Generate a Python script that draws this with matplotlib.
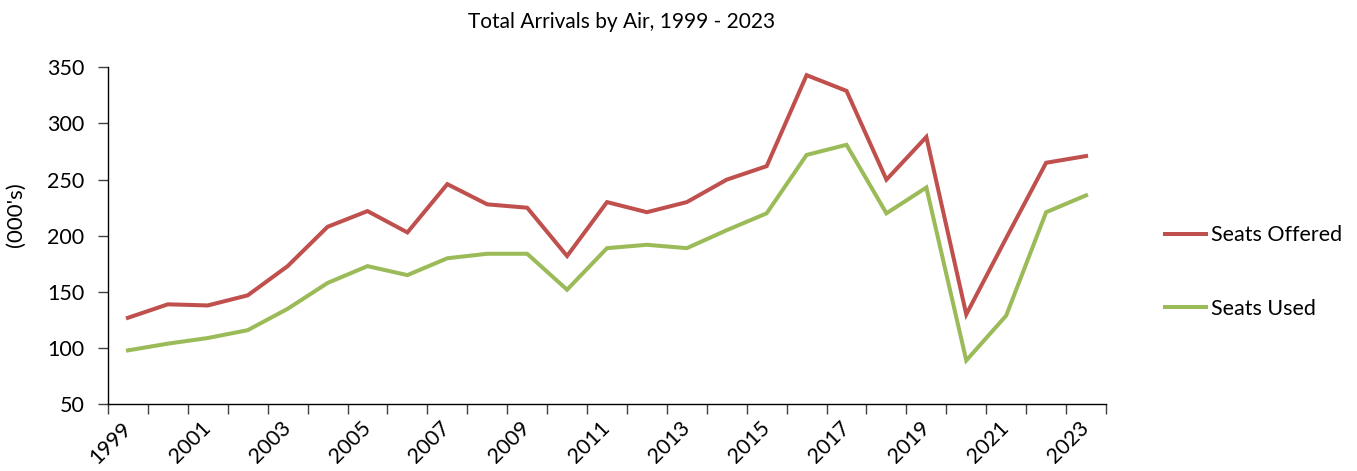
import matplotlib
matplotlib.use("Agg")
import matplotlib.pyplot as plt
import numpy as np

years = [str(y) for y in range(1999, 2024)]
seats_offered = [127, 139, 138, 147, 173, 208, 222, 203, 246, 228, 225, 182,
                 230, 221, 230, 250, 262, 343, 329, 250, 288, 130, 198, 265, 271]
seats_used = [98, 104, 109, 116, 135, 158, 173, 165, 180, 184, 184, 152,
              189, 192, 189, 205, 220, 272, 281, 220, 243, 89, 129, 221, 236]

plt.rcParams['font.family'] = ['Lato', 'DejaVu Sans']
FS = 15.5

fig = plt.figure(figsize=(13.57, 4.71), dpi=100)
ax = fig.add_axes([108/1357, 1-404.3/471, (1106-108)/1357, (404.3-67.3)/471])

x = np.arange(len(years))
ax.plot(x, seats_offered, color='#C0504D', lw=2.9, label='Seats Offered', solid_joinstyle='miter')
ax.plot(x, seats_used, color='#9BBB59', lw=2.9, label='Seats Used', solid_joinstyle='miter')

ax.set_xlim(-0.5, len(years)-0.5)
ax.set_ylim(50, 350)
ax.set_yticks(np.arange(50, 351, 50))

ax.set_xticks(np.arange(-0.5, len(years), 1))
ax.set_xticklabels([])
ax.set_xticks(x[::2], minor=True)
ax.set_xticklabels(years[::2], minor=True, rotation=45, ha='right', va='center',
                   rotation_mode='anchor', fontsize=FS)
ax.tick_params(axis='x', which='minor', length=0, pad=15)
ax.tick_params(axis='x', which='major', length=7, color='#404040', width=1)
ax.tick_params(axis='y', length=7, color='#404040', width=1, labelsize=FS, pad=10)

for s in ['top', 'right']:
    ax.spines[s].set_visible(False)
for s in ['left', 'bottom']:
    ax.spines[s].set_color('black')
    ax.spines[s].set_linewidth(1)

ax.set_ylabel("(000's)", fontsize=16)
ax.yaxis.set_label_coords(-0.082, 0.562)

fig.text(622/1357, 1-22/471, 'Total Arrivals by Air, 1999 - 2023', ha='center', va='center', fontsize=15)

leg = ax.legend(loc='center left', bbox_to_anchor=(1146/1357, 1-272/471), bbox_transform=fig.transFigure,
                frameon=False, fontsize=FS, handlelength=1.9, handletextpad=0.2, labelspacing=2.48)

fig.savefig('out.png', dpi=100)
